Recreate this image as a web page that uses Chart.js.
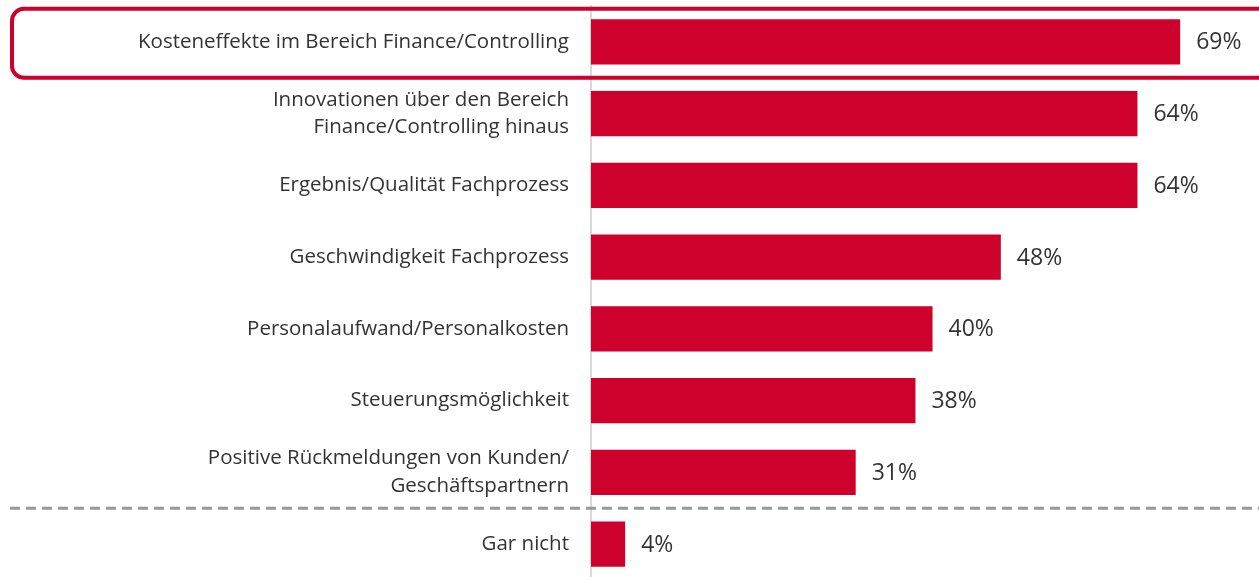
<!DOCTYPE html>
<html>
<head>
<meta charset="utf-8">
<script src="https://cdn.jsdelivr.net/npm/chart.js@4"></script>
<style>
    html, body { margin: 0; padding: 0; background: #fff; overflow: hidden; }
    #wrap { width: 1259px; height: 580px; position: relative; }
</style>
</head>
<body>
<div id="wrap"><canvas id="chart"></canvas></div>
<script>
// chart data
const categories = [
    'Kosteneffekte im Bereich Finance/Controlling',
    ['Innovationen über den Bereich', 'Finance/Controlling hinaus'],
    'Ergebnis/Qualität Fachprozess',
    'Geschwindigkeit Fachprozess',
    'Personalaufwand/Personalkosten',
    'Steuerungsmöglichkeit',
    ['Positive Rückmeldungen von Kunden/', 'Geschäftspartnern'],
    'Gar nicht'
];
const values = [69, 64, 64, 48, 40, 38, 31, 4];
const highlightIndex = 0;   // row with the red frame
const separatorAfter = 6;   // dashed line below this row

const RED = '#CE002C';
const FONT = '"Open Sans", Lato, sans-serif';

// value labels right of each bar
const valueLabels = {
    id: 'valueLabels',
    afterDatasetsDraw(chart) {
        const ctx = chart.ctx;
        const meta = chart.getDatasetMeta(0);
        ctx.save();
        ctx.font = '23px ' + FONT;
        ctx.fillStyle = '#333';
        ctx.textAlign = 'left';
        ctx.textBaseline = 'middle';
        meta.data.forEach((bar, i) => {
            ctx.fillText(values[i] + '%', bar.x + 16, bar.y + 1);
        });
        ctx.restore();
    }
};

// red frame around first row + dashed separator
const decorations = {
    id: 'decorations',
    afterDraw(chart) {
        const ctx = chart.ctx;
        const y = chart.scales.y;
        const step = y.getPixelForValue(1) - y.getPixelForValue(0);
        ctx.save();

        const yc = y.getPixelForValue(highlightIndex);
        const top = yc - step * 0.46;
        const bottom = yc + step * 0.5;
        ctx.strokeStyle = RED;
        ctx.lineWidth = 4;
        ctx.beginPath();
        ctx.roundRect(12, top, chart.width + 20, bottom - top, 12);
        ctx.stroke();

        const ys = (y.getPixelForValue(separatorAfter) + y.getPixelForValue(separatorAfter + 1)) / 2;
        ctx.strokeStyle = '#999';
        ctx.lineWidth = 3;
        ctx.setLineDash([10, 6]);
        ctx.beginPath();
        ctx.moveTo(10, ys);
        ctx.lineTo(chart.width, ys);
        ctx.stroke();
        ctx.restore();
    }
};

new Chart(document.getElementById('chart'), {
    type: 'bar',
    data: {
        labels: categories,
        datasets: [{
            data: values,
            backgroundColor: RED,
            borderWidth: 0,
            barPercentage: 0.63,
            categoryPercentage: 1
        }]
    },
    plugins: [valueLabels, decorations],
    options: {
        indexAxis: 'y',
        responsive: true,
        maintainAspectRatio: false,
        animation: false,
        layout: { padding: { top: 6, right: 2, bottom: 0, left: 0 } },
        plugins: {
            legend: { display: false },
            tooltip: { enabled: false },
            title: { display: false }
        },
        scales: {
            x: {
                display: false,
                min: 0,
                max: 78
            },
            y: {
                grid: { display: false, drawTicks: false },
                border: { display: true, color: '#d9d9d9', width: 2 },
                ticks: {
                    color: '#333',
                    padding: 22,
                    font: { family: FONT, size: 20.5, lineHeight: 1.36 }
                },
                afterFit(scale) {
                    scale.width = 591;
                    scale.paddingTop = 0;
                    scale.paddingBottom = 0;
                }
            }
        }
    }
});
</script>
</body>
</html>
